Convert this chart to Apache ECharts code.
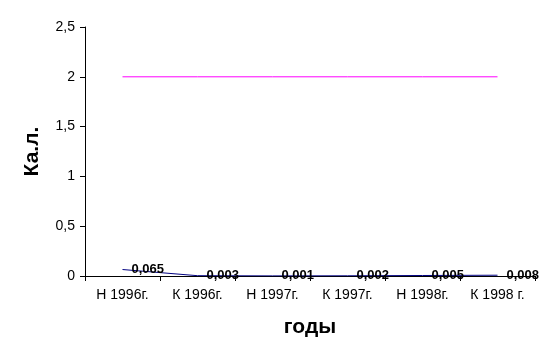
<!DOCTYPE html>
<html><head><meta charset="utf-8">
<script src="https://cdn.jsdelivr.net/npm/echarts@6/dist/echarts.min.js"></script>
<style>html,body{margin:0;padding:0;background:#fff}#c{width:551px;height:361px}</style>
</head><body><div id="c"></div>
<script>
var categories = ['Н 1996г.', 'К 1996г.', 'Н 1997г.', 'К 1997г.', 'Н 1998г.', 'К 1998 г.'];
var kalValues = [0.065, 0.003, 0.001, 0.002, 0.005, 0.008];
var limitValues = [2, 2, 2, 2, 2, 2];
var yTicks = { min: 0, max: 2.5, interval: 0.5 };

var chart = echarts.init(document.getElementById('c'));
var fnt = 'Liberation Sans, Arial, sans-serif';
chart.setOption({
  animation: false,
  grid: { left: 85, right: 16, top: 27, bottom: 85 },
  xAxis: {
    type: 'category', data: categories, boundaryGap: true,
    name: 'годы', nameLocation: 'middle', nameGap: 41,
    nameTextStyle: { fontFamily: fnt, fontSize: 21, fontWeight: 'bold', color: '#000' },
    axisLine: { lineStyle: { color: '#000', width: 1 } },
    axisTick: { show: true, length: 5, lineStyle: { color: '#000' } },
    axisLabel: { fontFamily: fnt, fontSize: 14, color: '#000', margin: 12, interval: 0 },
    splitLine: { show: false }
  },
  yAxis: {
    type: 'value', min: yTicks.min, max: yTicks.max, interval: yTicks.interval,
    name: 'Ка.л.', nameLocation: 'middle', nameGap: 42, nameRotate: 90,
    nameTextStyle: { fontFamily: fnt, fontSize: 21, fontWeight: 'bold', color: '#000' },
    axisLine: { show: true, lineStyle: { color: '#000', width: 1 } },
    axisTick: { show: true, length: 5, lineStyle: { color: '#000' } },
    axisLabel: { fontFamily: fnt, fontSize: 14, color: '#000', margin: 10,
      formatter: function (v) { return String(v).replace('.', ','); } },
    splitLine: { show: false }
  },
  series: [
    {
      type: 'line', data: limitValues, symbol: 'none', silent: true,
      lineStyle: { color: '#ff00ff', width: 1 }, z: 2
    },
    {
      type: 'line', data: kalValues, symbol: 'none', silent: true,
      lineStyle: { color: '#000080', width: 1 }, z: 3
    },
    {
      type: 'scatter', data: kalValues, symbol: 'circle', symbolSize: 2, silent: true,
      itemStyle: { color: 'rgba(0,0,0,0)' }, z: 4,
      label: { show: true, position: 'right', distance: 8, fontFamily: fnt, fontSize: 13,
        fontWeight: 'bold', color: '#000', opacity: 1,
        formatter: function (p) { return String(p.value).replace('.', ','); } }
    }
  ]
});
</script></body></html>
